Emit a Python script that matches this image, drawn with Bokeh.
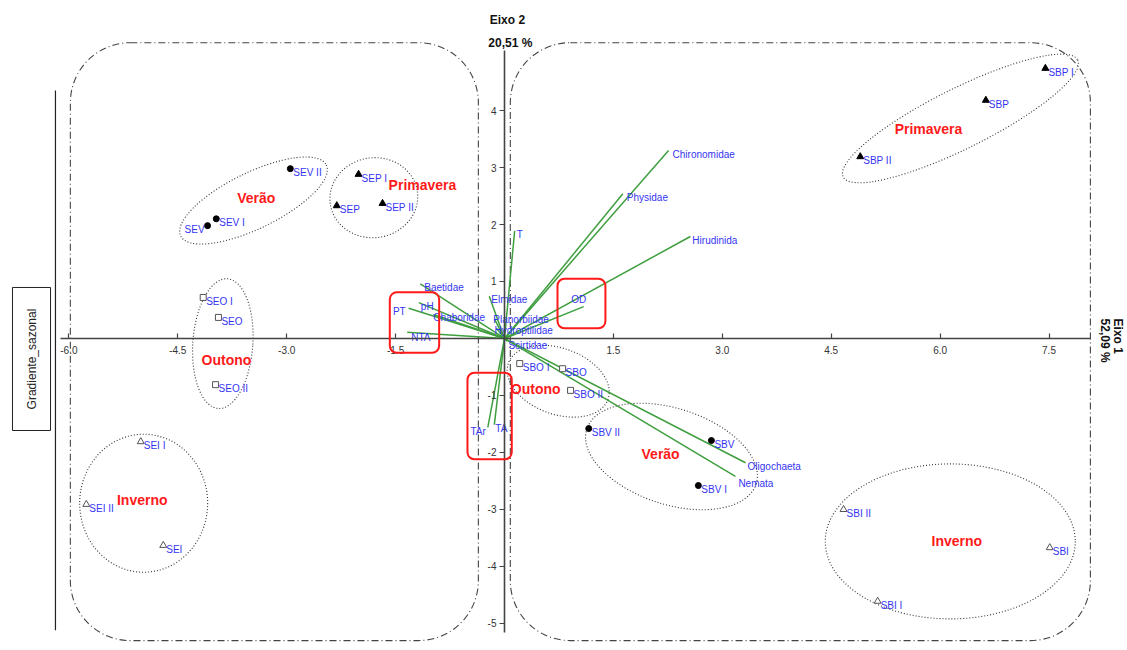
import math
from bokeh.plotting import figure
from bokeh.models import (ColumnDataSource, Range1d, LinearAxis, FixedTicker,
                          NumeralTickFormatter, BoxAnnotation)
from bokeh.core.properties import value
from bokeh.embed import file_html
from bokeh.resources import INLINE

# ---------------- data ----------------
site_names = ["SEV II", "SEV I", "SEV", "SEP I", "SEP", "SEP II",
              "SEO I", "SEO", "SEO II", "SEI I", "SEI II", "SEI",
              "SBP I", "SBP", "SBP II", "SBO I", "SBO", "SBO II",
              "SBV II", "SBV", "SBV I", "SBI II", "SBI", "SBI I"]
site_x = [-2.95, -3.97, -4.09, -2.01, -2.31, -1.68,
          -4.15, -3.94, -3.98, -5.01, -5.76, -4.70,
          7.45, 6.63, 4.90, 0.21, 0.80, 0.91,
          1.16, 2.85, 2.67, 4.67, 7.51, 5.14]
site_y = [2.98, 2.10, 1.98, 2.88, 2.33, 2.37,
          0.72, 0.37, -0.81, -1.81, -2.91, -3.63,
          4.74, 4.18, 3.19, -0.44, -0.53, -0.91,
          -1.58, -1.79, -2.58, -3.00, -3.67, -4.61]
site_season = ["Verão"] * 3 + ["Primavera"] * 3 + ["Outono"] * 3 + ["Inverno"] * 3 + \
              ["Primavera"] * 3 + ["Outono"] * 3 + ["Verão"] * 3 + ["Inverno"] * 3

var_names = ["Chironomidae", "Physidae", "Hirudinida", "T", "OD", "Baetidae",
             "PT", "pH", "Chaboridae", "NTA", "Elmidae", "Planorbiidae",
             "Hydroptilidae", "Scirtidae", "TAr", "TA", "Oligochaeta", "Nemata"]
var_x = [2.26, 1.63, 2.56, 0.14, 1.09, -1.16,
         -1.32, -1.18, -0.98, -1.34, -0.21, -0.14,
         -0.11, 0.04, -0.23, -0.14, 3.32, 3.18]
var_y = [3.30, 2.54, 1.79, 1.89, 0.56, 0.96,
         0.53, 0.63, 0.42, 0.11, 0.74, 0.35,
         0.18, -0.05, -1.56, -1.51, -2.18, -2.42]

group_labels = ["Verão", "Primavera", "Outono", "Inverno",
                "Primavera", "Outono", "Verão", "Inverno"]
group_x = [-3.42, -1.13, -3.83, -4.99, 5.84, 0.43, 2.15, 6.23]
group_y = [2.47, 2.70, -0.37, -2.84, 3.68, -0.89, -2.02, -3.56]

x_ticks = [-6.0, -4.5, -3.0, -1.5, 1.5, 3.0, 4.5, 6.0, 7.5]
y_ticks = [-5, -4, -3, -2, -1, 1, 2, 3, 4]

axis2_title = ["Eixo 2", "20,51 %"]
axis1_title = ["Eixo 1", "52,09 %"]
side_label = "Gradiente_sazonal"

# ---------------- styles / layout ----------------
FONT = "Liberation Sans"
BLUE = "#3535f2"
RED = "#ff1a1a"
GREEN = "#3f9e3f"
DARK = "#333333"

XR = (-6.942, 8.581)
YR = (-5.474, 5.930)

p = figure(width=1127, height=650, x_range=Range1d(*XR), y_range=Range1d(*YR),
           output_backend="svg", toolbar_location=None,
           x_axis_location=None, y_axis_location=None, min_border=0)
p.outline_line_color = None
p.xgrid.visible = False
p.ygrid.visible = False

# dash-dot rounded regions (decorations)
regions = [(-5.98, -0.36, 5.19, -5.30), (0.08, 8.07, 5.19, -5.30)]
for (l, r, t, b) in regions:
    p.add_layout(BoxAnnotation(left=l, right=r, top=t, bottom=b, fill_alpha=0,
                               line_color="#444444", line_alpha=1, line_width=1.1,
                               line_dash="7 3 1 3", border_radius=60, level="underlay"))

# axes crossing at origin
xaxis = LinearAxis(fixed_location=0, ticker=FixedTicker(ticks=x_ticks),
                   formatter=NumeralTickFormatter(format="0.0"), bounds=(-6.12, 8.07))
yaxis = LinearAxis(fixed_location=0, ticker=FixedTicker(ticks=y_ticks),
                   formatter=NumeralTickFormatter(format="0"), bounds=(-5.16, 5.05))
for ax in (xaxis, yaxis):
    ax.axis_line_color = "#444444"
    ax.axis_line_width = 1.6
    ax.major_tick_line_color = "#444444"
    ax.major_tick_line_width = 1.2
    ax.minor_tick_line_color = None
    ax.major_label_text_font = FONT
    ax.major_label_text_font_size = "10px"
    ax.major_label_text_color = "#333333"
xaxis.major_tick_in = 5
xaxis.major_tick_out = 0
xaxis.major_label_standoff = 8
yaxis.major_tick_in = 0
yaxis.major_tick_out = 5
yaxis.major_label_standoff = 3
p.add_layout(xaxis, "below")
p.add_layout(yaxis, "left")

# ellipses (screen units): cx, cy, w, h, angle deg
ell = [(-3.457, 2.42, 162, 56, 26), (-1.80, 2.47, 88, 80, 8), (-3.88, -0.09, 60, 130, -4),
       (-4.97, -2.89, 128, 138, 0), (6.28, 3.86, 262, 60, 26.5), (0.74, -0.75, 106, 66, -20),
       (2.30, -2.07, 178, 96, -18), (6.14, -3.56, 250, 155, 0)]
p.ellipse(x=[e[0] for e in ell], y=[e[1] for e in ell], width=[e[2] for e in ell],
          height=[e[3] for e in ell], angle=[math.radians(e[4]) for e in ell],
          width_units="screen", height_units="screen",
          fill_alpha=0, line_color=DARK, line_width=1.1, line_dash="1 2")

# red highlight boxes
for (l, r, t, b) in [(-1.58, -0.90, 0.81, -0.25), (0.73, 1.39, 1.05, 0.18), (-0.51, 0.10, -0.60, -2.12)]:
    p.add_layout(BoxAnnotation(left=l, right=r, top=t, bottom=b, fill_alpha=0,
                               line_color=RED, line_alpha=1, line_width=2, border_radius=7))

# vectors
vsrc = ColumnDataSource(dict(x0=[0] * len(var_x), y0=[0] * len(var_y), x1=var_x, y1=var_y, name=var_names))
p.segment(x0="x0", y0="y0", x1="x1", y1="y1", source=vsrc, line_color=GREEN, line_width=1.5)

var_off = {"Chironomidae": ("left", 4, 4), "Physidae": ("left", 4, 4), "Hirudinida": ("left", 2, 4),
           "T": ("left", 2, 4), "OD": ("center", -5, -7), "Baetidae": ("left", 4, 4),
           "PT": ("right", -3, 3), "pH": ("left", 2, 4), "Chaboridae": ("left", 0, 3),
           "NTA": ("left", 4, 5), "Elmidae": ("left", 2, 3), "Planorbiidae": ("left", -1, 1),
           "Hydroptilidae": ("left", -2, 2), "Scirtidae": ("left", 1, 4), "TAr": ("right", -2, 4),
           "TA": ("left", 1, 4), "Oligochaeta": ("left", 2, 4), "Nemata": ("left", 3, 7)}
for al in ("left", "right", "center"):
    idx = [i for i, n in enumerate(var_names) if var_off[n][0] == al]
    if not idx:
        continue
    p.text(x=[var_x[i] for i in idx], y=[var_y[i] for i in idx], text=[var_names[i] for i in idx],
           x_offset=[var_off[var_names[i]][1] for i in idx], y_offset=[var_off[var_names[i]][2] for i in idx],
           text_align=al, text_baseline="middle", text_color=BLUE,
           text_font=value(FONT), text_font_size="10px")

# site markers
marker_style = {"Verão": dict(marker="circle", size=6, fill_color="black", line_color="black"),
                "Primavera": dict(marker="triangle", size=7, fill_color="black", line_color="black"),
                "Outono": dict(marker="square", size=6, fill_color="white", line_color="#555555"),
                "Inverno": dict(marker="triangle", size=7, fill_color="white", line_color="#555555")}
for season, st in marker_style.items():
    idx = [i for i, s in enumerate(site_season) if s == season]
    p.scatter(x=[site_x[i] for i in idx], y=[site_y[i] for i in idx], line_width=1, **st)

left_labels = {"SEV"}
for al in ("left", "right"):
    idx = [i for i, n in enumerate(site_names) if (n in left_labels) == (al == "right")]
    p.text(x=[site_x[i] for i in idx], y=[site_y[i] for i in idx], text=[site_names[i] for i in idx],
           x_offset=3 if al == "left" else -3, y_offset=4, text_align=al, text_baseline="middle",
           text_color=BLUE, text_font=value(FONT), text_font_size="10px")

# group labels
p.text(x=group_x, y=group_y, text=group_labels, text_align="center", text_baseline="middle",
       text_color=RED, text_font=value(FONT), text_font_style="bold", text_font_size="14px")

# axis titles
p.text(x=[0.04, 0.08], y=[5.58, 5.18], text=axis2_title, text_align="center", text_baseline="middle",
       text_color="#111111", text_font=value(FONT), text_font_style="bold", text_font_size="12px")
p.text(x=[8.455, 8.275], y=[0.35, 0.35], text=axis1_title, angle=-math.pi / 2,
       text_align="left", text_baseline="middle",
       text_color="#111111", text_font=value(FONT), text_font_style="bold", text_font_size="12px")

# side label box
p.add_layout(BoxAnnotation(left=-6.777, right=-6.253, top=0.895, bottom=-1.614, fill_alpha=0,
                           line_color="#222222", line_alpha=1, line_width=1))
p.text(x=[-6.515], y=[-0.36], text=[side_label], angle=math.pi / 2, text_align="center",
       text_baseline="middle", text_color="#222222", text_font=value(FONT), text_font_size="12px")
p.segment(x0=[-6.185], y0=[4.35], x1=[-6.185], y1=[-5.12], line_color="#222222", line_width=1.2)

open("out.html", "w").write(file_html(p, INLINE))
